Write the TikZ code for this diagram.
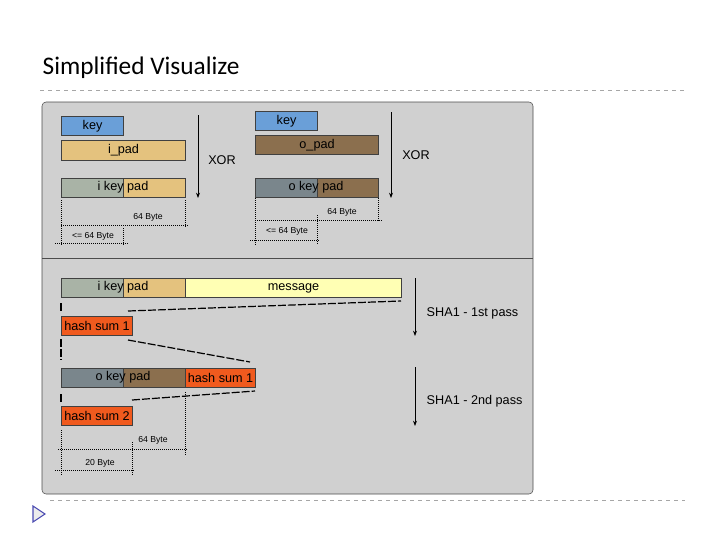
\documentclass[tikz,border=0pt]{standalone}
\usepackage{fontspec}
\setmainfont{Liberation Sans}
\newfontfamily\titlefont{Carlito}
\usetikzlibrary{arrows.meta, positioning}
\definecolor{keyblue}{HTML}{6A9FD8}
\definecolor{ipad}{HTML}{E4C27E}
\definecolor{opad}{HTML}{8B6F4E}
\definecolor{ikey}{HTML}{A9B3A6}
\definecolor{okey}{HTML}{7A868C}
\definecolor{msg}{HTML}{FFFFB4}
\definecolor{hash}{HTML}{F05A1E}
\definecolor{panel}{HTML}{D0D0D0}
\begin{document}
\begin{tikzpicture}[x=0.75pt, y=-0.75pt,
            box/.style={draw=black!75, line width=0.8pt, anchor=north west, inner sep=0pt, font=\fontsize{9.5}{10}\selectfont},
            dim/.style={densely dotted, line width=0.5pt},
            lbl/.style={font=\fontsize{6.5}{7}\selectfont, inner sep=1pt},
            pass/.style={-{Stealth[length=4pt]}, line width=0.6pt},
            cut/.style={dashed, line width=0.9pt, dash pattern=on 6pt off 1.5pt}
        ]
        \useasboundingbox (0,0) rectangle (720,540);

        % Title and rules
        \node[anchor=west, font=\titlefont\fontsize{19}{20}\selectfont] (title) at (38,68) {Simplified Visualize};
        \draw[dashed, gray!70] (40,90) -- (685,90);
        \draw[dashed, gray!70] (50,500) -- (685,500);
        \draw[fill=gray!15, draw=gray!60!blue, line width=0.8pt] (33,506) -- (45,514) -- (33,522) -- cycle;

        % Panel
        \draw[fill=panel, draw=black!70, rounded corners=3pt] (42,102) rectangle (533,494);
        \draw[black!70] (42,258) -- (533,258);

        % Top left
        \node[box, fill=keyblue, minimum width=62*0.75pt, minimum height=19*0.75pt] (keyA) at (61,116) {key};
        \node[box, fill=ipad, minimum width=124*0.75pt, minimum height=20*0.75pt] (ipad) at (61,140) {i\_pad};
        \node[box, fill=ikey, minimum width=62*0.75pt, minimum height=19*0.75pt] (ikA) at (61,178) {};
        \node[box, fill=ipad, minimum width=62*0.75pt, minimum height=19*0.75pt] (ikB) at (123,178) {};
        \node[font=\fontsize{9.5}{10}\selectfont] (ikT) at (123,187.5) {i key pad};
        \draw[pass] (198,115) -- (198,198);
        \node[font=\fontsize{9.5}{10}\selectfont] (xorA) at (222,160) {XOR};
        \draw[dim] (61,200) -- (61,245);
        \draw[dim] (185,200) -- (185,228);
        \draw[dim] (123,228) -- (123,245);
        \draw[dim] (61,225) -- (188,225);
        \draw[dim] (55,243) -- (128,243);
        \node[lbl] (byA) at (148,217) {64 Byte};
        \node[lbl] (leA) at (93,236) {<= 64 Byte};

        % Top right
        \node[box, fill=keyblue, minimum width=62*0.75pt, minimum height=19*0.75pt] (keyB) at (255,111) {key};
        \node[box, fill=opad, minimum width=123*0.75pt, minimum height=19*0.75pt] (opad) at (255,135) {o\_pad};
        \node[box, fill=okey, minimum width=62*0.75pt, minimum height=19*0.75pt] (okA) at (255,178) {};
        \node[box, fill=opad, minimum width=61*0.75pt, minimum height=19*0.75pt] (okB) at (317,178) {};
        \node[font=\fontsize{9.5}{10}\selectfont] (okT) at (316,187.5) {o key pad};
        \draw[pass] (391,112) -- (391,198);
        \node[font=\fontsize{9.5}{10}\selectfont] (xorB) at (416,155) {XOR};
        \draw[dim] (255,198) -- (255,245);
        \draw[dim] (378,198) -- (378,222);
        \draw[dim] (317,215) -- (317,245);
        \draw[dim] (255,220) -- (382,220);
        \draw[dim] (250,240) -- (320,240);
        \node[lbl] (byB) at (342,212) {64 Byte};
        \node[lbl] (leB) at (287,231) {<= 64 Byte};

        % First pass
        \node[box, fill=ikey, minimum width=62*0.75pt, minimum height=19*0.75pt] (p1A) at (61,278) {};
        \node[box, fill=ipad, minimum width=62*0.75pt, minimum height=19*0.75pt] (p1B) at (123,278) {};
        \node[font=\fontsize{9.5}{10}\selectfont] (p1T) at (123,287.5) {i key pad};
        \node[box, fill=msg, minimum width=216*0.75pt, minimum height=19*0.75pt] (msg) at (185,278) {message};
        \draw[cut] (128,311) -- (401,301);
        \draw[cut] (61,303) -- (61,313);
        \node[box, fill=hash, minimum width=71*0.75pt, minimum height=19*0.75pt] (hs1) at (61,316) {hash sum 1};
        \draw[cut] (128,340) -- (250,362);
        \draw[cut] (61,339) -- (61,360);
        \draw[pass] (415,278) -- (415,336);
        \node[anchor=west, font=\fontsize{9.5}{10}\selectfont] (sha1) at (422,313) {SHA1 - 1st pass};

        % Second pass
        \node[box, fill=okey, minimum width=62*0.75pt, minimum height=19*0.75pt] (p2A) at (61,368) {};
        \node[box, fill=opad, minimum width=62*0.75pt, minimum height=19*0.75pt] (p2B) at (123,368) {};
        \node[font=\fontsize{9.5}{10}\selectfont] (p2T) at (123,377.5) {o key pad};
        \node[box, fill=hash, minimum width=70*0.75pt, minimum height=19*0.75pt] (hs1b) at (185,368) {hash sum 1};
        \draw[cut] (132,400) -- (255,391);
        \draw[cut] (61,394) -- (61,402);
        \node[box, fill=hash, minimum width=71*0.75pt, minimum height=19*0.75pt] (hs2) at (61,406) {hash sum 2};
        \draw[pass] (415,367) -- (415,426);
        \node[anchor=west, font=\fontsize{9.5}{10}\selectfont] (sha2) at (422,401) {SHA1 - 2nd pass};
        \draw[dim] (61,430) -- (61,476);
        \draw[dim] (185,392) -- (185,456);
        \draw[dim] (132,442) -- (132,476);
        \draw[dim] (58,449) -- (188,449);
        \draw[dim] (55,470) -- (135,470);
        \node[lbl] (byC) at (153,440) {64 Byte};
        \node[lbl] (tw) at (100,463) {20 Byte};
    \end{tikzpicture}
\end{document}
